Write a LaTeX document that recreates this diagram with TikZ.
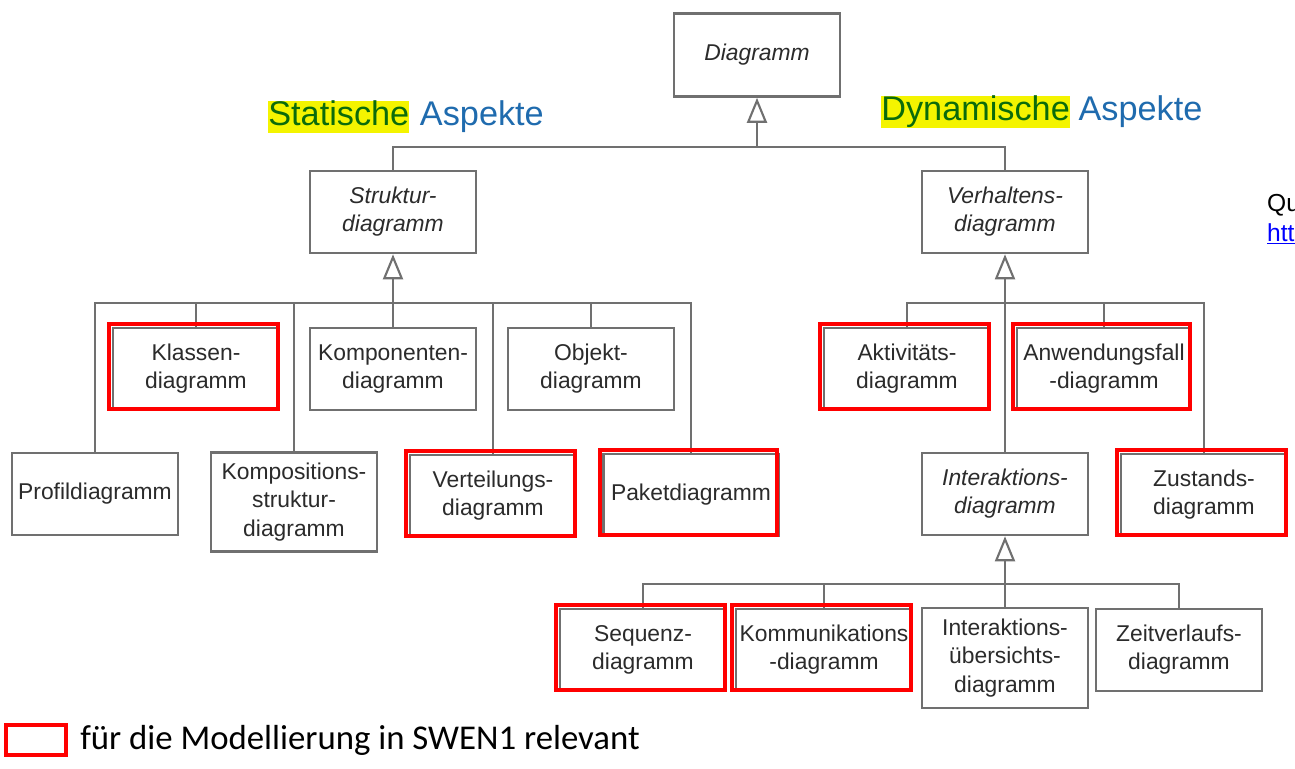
\documentclass[tikz,border=0pt]{standalone}
\usepackage{fontspec}
\setmainfont{Liberation Sans}
\newfontfamily\legendfont{Carlito}
\usetikzlibrary{positioning,arrows.meta}
\definecolor{umlgray}{HTML}{707070}
\definecolor{umltext}{HTML}{2B2B2B}
\definecolor{aspblue}{HTML}{1F6BAE}
\definecolor{aspgreen}{HTML}{0B6B0B}
\definecolor{hlyellow}{HTML}{F4F400}
\definecolor{relred}{HTML}{FF0000}

\begin{document}
\begin{tikzpicture}[
  x=0.02cm, y=-0.02cm,
  font=\fontsize{13}{16}\selectfont,
  box/.style={draw=umlgray, line width=1.5pt, fill=white, text=umltext, align=center, inner xsep=1pt, minimum width=3.32cm, minimum height=1.64cm},
  abs/.style={box, font=\fontsize{13}{16}\selectfont\itshape},
  rel/.style={draw=relred, line width=2.2pt},
  conn/.style={draw=umlgray, line width=1.5pt},
  gen/.style={conn, -{Triangle[open, length=0.5cm, width=0.4cm, fill=white, line width=1.2pt]}},
  hl/.style={fill=hlyellow, text=aspgreen, font=\fontsize{19.5}{22}\selectfont, inner sep=0pt, text height=14pt, text depth=4.5pt},
  asp/.style={text=aspblue, font=\fontsize{19.5}{22}\selectfont, inner sep=0pt, text height=14pt, text depth=4.5pt},
]
  \useasboundingbox (0,0) rectangle (1295,768);

  % Kopf
  \node[abs, minimum height=1.66cm] (diagramm) at (757,55) {Diagramm};
  \node[hl, anchor=west] (stat) at (268,117) {Statische};
  \node[asp, right=0.2cm of stat] (statasp) {Aspekte};
  \node[hl, anchor=west] (dyn) at (881,112) {Dynamische};
  \node[asp, right=0.16cm of dyn] (dynasp) {Aspekte};
  \node[anchor=west, text=black, font=\fontsize{14}{16}\selectfont] (quelle) at (1261,205) {Qu};
  \node[anchor=west, text=blue, font=\fontsize{14}{16}\selectfont] (link) at (1261,234) {\underline{htt}};

  \node[abs] (struktur) at (393,212) {Struktur-\\diagramm};
  \node[abs] (verhalten) at (1005,212) {Verhaltens-\\diagramm};

  % Strukturdiagramme
  \node[box] (klassen) at (196,369) {Klassen-\\diagramm};
  \node[box] (komponenten) at (393,369) {Komponenten-\\diagramm};
  \node[box] (objekt) at (591,369) {Objekt-\\diagramm};
  \node[box] (profil) at (95,494) {Profildiagramm};
  \node[box, minimum height=1.98cm] (komposition) at (294,502) {Kompositions-\\struktur-\\diagramm};
  \node[box] (verteilung) at (493,496) {Verteilungs-\\diagramm};
  \node[box, minimum width=3.5cm] (paket) at (691,495) {Paketdiagramm};

  % Verhaltensdiagramme
  \node[box] (aktivitaet) at (907,369) {Aktivitäts-\\diagramm};
  \node[box, minimum width=3.48cm] (anwendung) at (1104,369) {Anwendungsfall\\-diagramm};
  \node[abs] (interaktion) at (1005,494) {Interaktions-\\diagramm};
  \node[box] (zustand) at (1204,495) {Zustands-\\diagramm};

  % Interaktionsdiagramme
  \node[box] (sequenz) at (643,650) {Sequenz-\\diagramm};
  \node[box, minimum width=3.52cm] (kommunikation) at (824,650) {Kommunikations\\-diagramm};
  \node[box, minimum height=2.0cm] (uebersicht) at (1005,658) {Interaktions-\\übersichts-\\diagramm};
  \node[box] (zeitverlauf) at (1179,650) {Zeitverlaufs-\\diagramm};

  % Generalisierungen
  \coordinate (topbus) at (757,147);
  \coordinate (sbus) at (393,303);
  \coordinate (vbus) at (1005,303);
  \coordinate (ibus) at (1005,584);
  \draw[conn] (struktur.north) |- (topbus) -| (verhalten.north);
  \draw[gen] (topbus) -- (diagramm.south);
  \draw[gen] (sbus) -- (struktur.south);
  \foreach \c in {klassen,komponenten,objekt,profil,komposition,verteilung,paket}
    \draw[conn] (\c.north) |- (sbus);
  \draw[gen] (vbus) -- (verhalten.south);
  \foreach \c in {aktivitaet,anwendung,interaktion,zustand}
    \draw[conn] (\c.north) |- (vbus);
  \draw[gen] (ibus) -- (interaktion.south);
  \foreach \c in {sequenz,kommunikation,uebersicht,zeitverlauf}
    \draw[conn] (\c.north) |- (ibus);

  % relevant fuer SWEN1
  \foreach \n in {klassen,verteilung,paket,aktivitaet,anwendung,zustand,sequenz,kommunikation}
    \draw[rel] ([shift={(-1.5pt,1.5pt)}]\n.south west) rectangle ([shift={(-1.5pt,1.5pt)}]\n.north east);

  % Legende
  \node[rel, minimum width=1.2cm, minimum height=0.6cm, inner sep=0pt] (legbox) at (36,740) {};
  \node[right=0.24cm of legbox, inner sep=0pt, font=\legendfont\fontsize{19.8}{23}\selectfont] (legtext) {für die Modellierung in SWEN1 relevant};
\end{tikzpicture}
\end{document}
